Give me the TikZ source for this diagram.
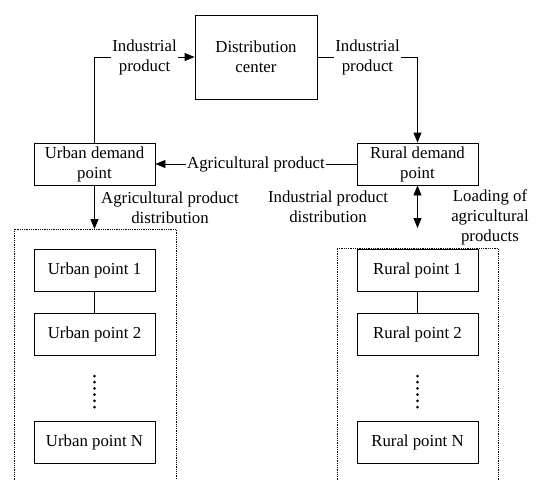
\documentclass[tikz,border=0pt]{standalone}
\usepackage{fontspec}
\setmainfont{Liberation Serif}
\usetikzlibrary{arrows.meta, positioning}

\begin{document}
\begin{tikzpicture}[
    x=1pt, y=-1pt,
    font=\fontsize{16.8}{20}\selectfont,
    node distance=21pt and 0pt,
    box/.style={draw, line width=0.9pt, minimum width=121pt, minimum height=42pt, inner sep=1pt, align=center},
    arr/.style={-{Triangle[length=10pt, width=8pt]}, line width=0.9pt},
    darr/.style={{Triangle[length=10pt, width=8pt]}-{Triangle[length=10pt, width=8pt]}, line width=0.9pt},
    lab/.style={fill=white, inner sep=1pt, align=center},
    grp/.style={densely dotted, line width=0.8pt},
    vdots/.style={line width=3pt, line cap=round, dash pattern=on 0pt off 6.2pt}
  ]
    \useasboundingbox (0,0) rectangle (539,480);
    \node[box, minimum width=122pt, minimum height=84pt] (dc) at (256,57) {Distribution\\center};
    \node[box] (udp) at (94.5,164) {Urban demand\\point};
    \node[box] (rdp) at (417.5,164) {Rural demand\\point};
    % urban side
    \node[box] (u1) at (94.5,270.5) {Urban point 1};
    \node[box, below=of u1] (u2) {Urban point 2};
    \node[box] (uN) at (94.5,442) {Urban point N};
    % rural side
    \node[box] (r1) at (417.5,270.5) {Rural point 1};
    \node[box, below=of r1] (r2) {Rural point 2};
    \node[box] (rN) at (417.5,442) {Rural point N};
    \coordinate (uIn) at (94.5,229);
    \coordinate (rIn) at (417.5,228);
    % dotted groups
    \draw[grp] (14,482) -- (14,229) -- (176,229) -- (176,482);
    \draw[grp] (337,482) -- (337,248) -- (498,248) -- (498,482);
    \draw[vdots] (94.5,376) -- (94.5,407);
    \draw[vdots] (417.5,376) -- (417.5,407);
    % flows
    \draw[arr] (udp.north) |- node[lab, pos=0.75] {Industrial\\product} (dc.west);
    \draw[arr] (dc.east) -| node[lab, pos=0.25] {Industrial\\product} (rdp.north);
    \draw[arr] (rdp.west) -- node[lab, midway] {Agricultural product} (udp.east);
    \draw[arr] (udp.south) -- (uIn);
    \draw[darr] (rdp.south) -- (rIn);
    \node[align=center, anchor=west, inner sep=2pt] (ulab) at (99,208) {Agricultural product\\distribution};
    \node[align=center] (rlab1) at (328,207) {Industrial product\\distribution};
    \node[align=center] (rlab2) at (490,217.5) {Loading of\\agricultural\\products};
    \draw[line width=0.9pt] (u1) -- (u2);
    \draw[line width=0.9pt] (r1) -- (r2);
  \end{tikzpicture}
\end{document}
